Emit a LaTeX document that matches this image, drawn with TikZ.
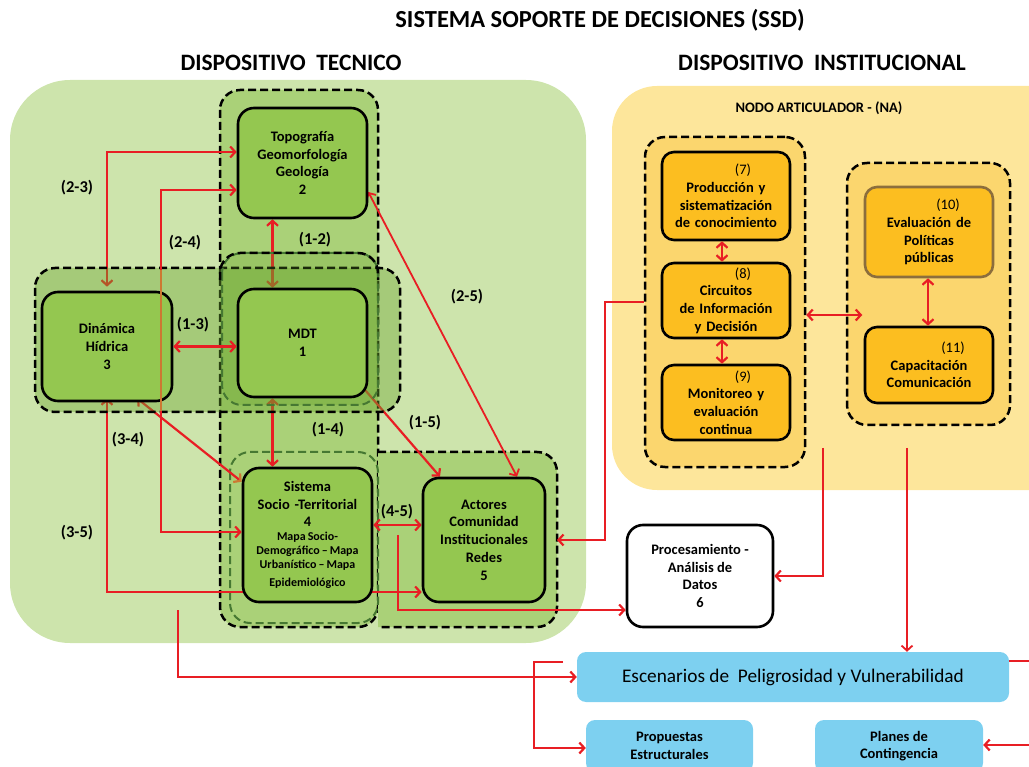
\documentclass[tikz,border=0pt]{standalone}
\usepackage{fontspec}
\setmainfont{Carlito}
\usetikzlibrary{arrows.meta}
\definecolor{bgGreen}{RGB}{205,228,172}
\definecolor{colGreen}{RGB}{170,209,120}
\definecolor{boxGreen}{RGB}{148,199,80}
\definecolor{ovGreen}{RGB}{105,165,45}
\definecolor{dkGreen}{RGB}{70,120,50}
\definecolor{bgYellow}{RGB}{253,230,155}
\definecolor{dashYellow}{RGB}{251,214,110}
\definecolor{boxYellow}{RGB}{252,190,32}
\definecolor{brownB}{RGB}{140,110,60}
\definecolor{skyBlue}{RGB}{125,208,240}
\definecolor{arrRed}{RGB}{232,30,36}
\definecolor{tipOrange}{RGB}{205,120,50}
\newcommand\bxf{\fontsize{14.5}{17.7}\selectfont\bfseries}
\newcommand\smf{\fontsize{12}{14}\selectfont\bfseries}
\newcommand\lbf{\fontsize{16.5}{19}\selectfont\bfseries}
\begin{document}
\begin{tikzpicture}[x=1pt,y=-1pt,
  dashbox/.style={draw=black, line width=2.5pt, dash pattern=on 8pt off 4pt, rounded corners=20pt},
  gdash/.style={draw=dkGreen, line width=2pt, dash pattern=on 8pt off 4pt, rounded corners=20pt},
  gbox/.style={draw=black, line width=2.6pt, rounded corners=16pt, fill=boxGreen, align=center, font=\bxf, inner sep=1pt},
  ybox/.style={draw=black, line width=2.6pt, rounded corners=12pt, fill=boxYellow, align=center, font=\bxf, inner sep=1pt, text width=126pt, minimum width=128pt},
  bbox/.style={fill=skyBlue, rounded corners=9pt, align=center},
  arr/.style={draw=arrRed, line width=2.2pt, -{Straight Barb[length=5pt,width=11pt]}},
  darr/.style={draw=arrRed, line width=2.2pt, {Straight Barb[length=5pt,width=11pt]}-{Straight Barb[length=5pt,width=11pt]}},
  lbl/.style={font=\lbf, inner sep=0pt}
]
\useasboundingbox (0,0) rectangle (1029,767);
\clip (0,0) rectangle (1029,767);
% titles
\node[font=\fontsize{24.5}{28}\selectfont\bfseries] (title) at (600,20) {SISTEMA SOPORTE DE DECISIONES (SSD)};
\node[font=\fontsize{23.5}{27}\selectfont\bfseries] (tdt) at (291,63) {DISPOSITIVO\ \ TECNICO};
\node[font=\fontsize{23.5}{27}\selectfont\bfseries] (tdi) at (822,63) {DISPOSITIVO\ \ INSTITUCIONAL};
% backgrounds
\fill[bgGreen, rounded corners=60pt] (10,80) rectangle (586,643);
\fill[bgYellow, rounded corners=45pt] (612,86) rectangle (1080,490);
\node[font=\fontsize{14.5}{17}\selectfont\bfseries] (na) at (819,108) {NODO\ ARTICULADOR - (NA)};
% technical dashed containers
\draw[dashbox, fill=colGreen] (220,90) rectangle (378,627);
\draw[dashbox, fill=colGreen] (378,452) -- (557,452) -- (557,627) -- (378,627);
\coordinate (adb) at (557,540);
\draw[gdash] (230,452) rectangle (378,623);
% institutional dashed containers
\node[dashbox, fill=dashYellow, minimum width=160pt, minimum height=330pt] (dl) at (725,302) {};
\node[dashbox, fill=dashYellow, minimum width=163pt, minimum height=262pt] (dr) at (928.5,294) {};
% coordinates for free ends
\coordinate (c24) at (161,300);
\coordinate (a6s) at (398,535);
\coordinate (tbs) at (178,610);
\coordinate (yb1) at (823,448);
\coordinate (yb2) at (907,448);
\coordinate (brs) at (563,662);
\coordinate (brc) at (534,700);
\coordinate (rgt) at (1040,661);
\coordinate (rgt2) at (1040,745);
\coordinate (ilx) at (605,400);
\coordinate (ov1) at (161,270);
\coordinate (ov2) at (161,411);
% technical node anchors
\path (302.5,163) node[gbox, minimum width=129pt, minimum height=110pt, draw=none, fill=none] (n2) {}
      (302.5,343) node[gbox, minimum width=129pt, minimum height=108pt, draw=none, fill=none] (n1) {}
      (107,342.5) node[gbox, minimum width=130pt, minimum height=109pt, draw=none, fill=none] (n3) {}
      (307.5,535) node[gbox, minimum width=129pt, minimum height=134pt, draw=none, fill=none] (n4) {}
      (484,540) node[gbox, minimum width=122pt, minimum height=124pt, draw=none, fill=none] (n5) {};
% connectors (under overlay)
\draw[darr] (n3.north) |- ([yshift=11pt]n2.west);
\draw[darr] ([xshift=-30pt]n2.south) -- ([xshift=-30pt]n2.south |- n1.north);
\draw[darr] ([xshift=-30pt]n1.south) -- ([xshift=-30pt]n1.south |- n4.north);
\draw[draw=arrRed, line width=2.2pt, {Straight Barb[length=5pt,width=11pt]}-{Straight Barb[length=5pt,width=11pt,color=tipOrange]}] ([xshift=30pt]n3.south) -- ([yshift=-15pt]n4.north west);
\draw[darr] ([xshift=-9pt,yshift=15pt]n1.south east) -- ([xshift=-44pt]n5.north);
\draw[darr, line width=1.8pt] ([yshift=-29pt]n2.east) -- ([xshift=33pt]n5.north);
\draw[darr] ([yshift=10pt]n4.east) -- ([yshift=10pt]n4.east -| n5.west);
\draw[darr] (n3.south) |- ([yshift=-52pt]n5.west);
% row overlay
\draw[dashbox, fill=ovGreen, fill opacity=0.4] (35,268) rectangle (400,412);
% MDT overlay
\draw[gdash, fill=ovGreen, fill opacity=0.25] (222,253) rectangle (378,405);
\draw[dashbox] (220,280) -- (220,253) -- (378,253) -- (378,280);
% solid technical boxes
\node[gbox, minimum width=129pt, minimum height=110pt] (b2) at (n2) {Topografía\\Geomorfología\\Geología\\2};
\node[gbox, minimum width=129pt, minimum height=108pt] (b1) at (n1) {MDT\\1};
\node[gbox, minimum width=130pt, minimum height=109pt] (b3) at ([yshift=-4pt]n3) {Dinámica\\Hídrica\\3};
\node[gbox, minimum width=129pt, minimum height=134pt, text width=127pt] (b4) at (n4) {Sistema\\Socio -Territorial\\4\par\smf Mapa\,Socio-\\Demográfico\,–\,Mapa\\Urbanístico\,–\,Mapa\\Epidemiológico};
\node[gbox, minimum width=122pt, minimum height=124pt] (b5) at (n5) {Actores\\Comunidad\\Institucionales\\Redes\\5};
\draw[darr] ([yshift=-4pt]n3.east) -- ([yshift=-4pt]n3.east -| n1.west);
% (2-4) drawn over Dinámica, tinted within the row container
\draw[darr] ([yshift=-27pt]n2.west) -| (c24) |- ([yshift=3pt]n4.west);
\draw[draw=tipOrange, line width=2.2pt] (ov1) -- (ov2);
% processing
\node[gbox, fill=white, minimum width=146pt, minimum height=102pt] (n6) at (700,576) {Procesamiento -\\Análisis de\\Datos\\6};
% institutional nodes
\node[ybox, minimum height=88pt] (n7) at (726,196) {\hspace*{34pt}{\mdseries (7)}\\Producción y\\sistematización\\de conocimiento};
\node[ybox, minimum height=75pt] (n8) at (726,300.5) {\hspace*{34pt}{\mdseries (8)}\\Circuitos\\de Información\\y Decisión};
\node[ybox, minimum height=75pt] (n9) at (726,402.5) {\hspace*{34pt}{\mdseries (9)}\\Monitoreo y\\evaluación\\continua};
\node[ybox, draw=brownB, minimum height=90pt] (n10) at (929,232) {\hspace*{38pt}{\mdseries (10)}\\Evaluación de\\Políticas\\públicas};
\node[ybox, minimum height=76pt] (n11) at (929,365) {\hspace*{48pt}{\mdseries (11)}\\Capacitación\\Comunicación};
\draw[darr] ([xshift=-4pt]n7.south) -- ([xshift=-4pt]n8.north);
\draw[darr] ([xshift=-4pt]n8.south) -- ([xshift=-4pt]n9.north);
\draw[darr] ([xshift=-1pt]n10.south) -- ([xshift=-1pt]n11.north);
\draw[darr] ([yshift=-13pt]dl.east) -- ++(56,0);
% blue boxes
\node[bbox, minimum width=432pt, minimum height=50pt, font=\fontsize{19.3}{22}\selectfont] (esc) at (793,677) {Escenarios de\ \ Peligrosidad y Vulnerabilidad};
\node[bbox, minimum width=167pt, minimum height=52pt, font=\bxf] (prop) at (669.5,746) {Propuestas\\Estructurales};
\node[bbox, minimum width=168pt, minimum height=52pt, font=\bxf] (plan) at (899,746) {Planes de\\Contingencia};
% long connectors
\draw[arr] (a6s) |- ([yshift=-34pt]n6.west);
\draw[arr] (dl.west) -| (ilx) |- (adb);
\draw[arr] (yb1) |- (n6.east);
\draw[arr, line width=1.8pt] (yb2) -- (yb2 |- esc.north);
\draw[arr] (tbs) |- (esc.west);
\draw[arr] (brs) -| (brc) |- ([yshift=-2pt]prop.west);
\draw[draw=arrRed, line width=2.2pt] ([yshift=16pt]esc.east) -- (rgt);
\draw[arr] (rgt2) -- ([yshift=1pt]plan.east);
% labels
\node[lbl] (l23) at (77,188) {(2-3)};
\node[lbl] (l24) at (185,243) {(2-4)};
\node[lbl] (l12) at (315,240) {(1-2)};
\node[lbl] (l13) at (193,325) {(1-3)};
\node[lbl] (l14) at (328,430) {(1-4)};
\node[lbl] (l34) at (128,440) {(3-4)};
\node[lbl] (l15) at (425,423) {(1-5)};
\node[lbl] (l25) at (467,297) {(2-5)};
\node[lbl] (l45) at (397,512) {(4-5)};
\node[lbl] (l35) at (77,533) {(3-5)};
\end{tikzpicture}
\end{document}
